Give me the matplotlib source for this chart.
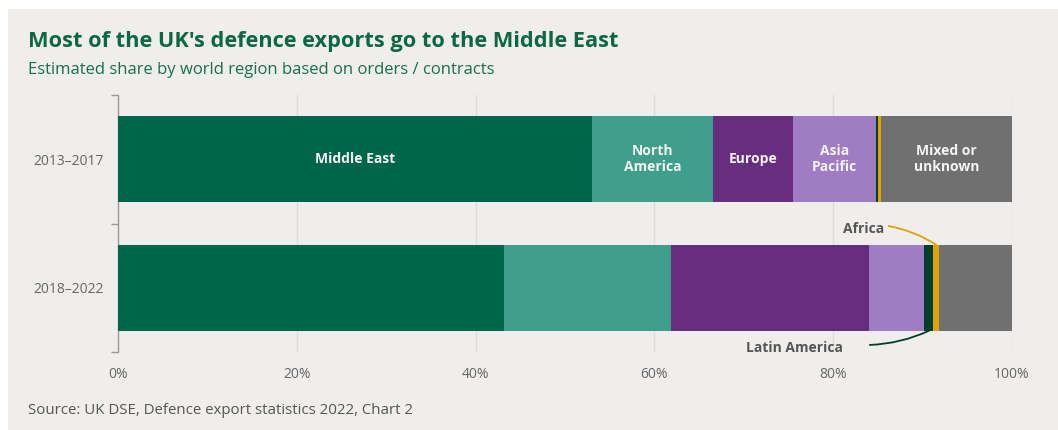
import matplotlib
matplotlib.use("Agg")
import matplotlib.pyplot as plt
from matplotlib.patches import Rectangle

periods = ["2013–2017", "2018–2022"]
regions = ["Middle East", "North America", "Europe", "Asia Pacific",
           "Latin America", "Africa", "Mixed or unknown"]
share_2013_2017 = [53.0, 13.6, 8.9, 9.3, 0.2, 0.3, 14.7]
share_2018_2022 = [43.2, 18.7, 22.1, 6.2, 1.0, 0.6, 8.2]
inside_labels = ["Middle East", "North\nAmerica", "Europe", "Asia\nPacific",
                 "", "", "Mixed or\nunknown"]
xticks = [0, 20, 40, 60, 80, 100]
xticklabels = ["0%", "20%", "40%", "60%", "80%", "100%"]

colors = ["#00654a", "#409f8a", "#672d7e", "#a07cc5", "#003f2b", "#e1a200", "#707070"]

plt.rcParams['font.family'] = ['Open Sans', 'DejaVu Sans']

W, H = 1058, 430
fig = plt.figure(figsize=(W / 100, H / 100), dpi=100)
fig.patch.set_facecolor("white")
fig.patches.append(Rectangle((8 / W, 0), 1, 1 - 9 / H, transform=fig.transFigure,
                             facecolor="#efeeec", edgecolor="none", zorder=-10))

ax = fig.add_axes([118 / W, 1 - 352 / H, (1012 - 118) / W, (352 - 95) / H])
ax.set_facecolor("none")
ax.set_zorder(2)

data = [share_2013_2017, share_2018_2022]
for i, vals in enumerate(data):
    left = 0
    for j, v in enumerate(vals):
        ax.barh(i, v, left=left, height=0.67, color=colors[j], edgecolor="none", zorder=3)
        if i == 0 and inside_labels[j]:
            ax.text(left + v / 2, i, inside_labels[j], ha="center", va="center",
                    color="#f4f4f4", fontsize=10, fontweight="bold",
                    linespacing=1.2, zorder=4)
        left += v

ax.set_xlim(0, 100)
ax.set_ylim(1.5, -0.5)
ax.set_xticks(xticks)
ax.set_xticklabels(xticklabels, color="#666666", fontsize=10)
ax.tick_params(axis="x", length=0, pad=11)
ax.set_yticks([0, 1])
ax.set_yticklabels(periods, color="#666666", fontsize=10)
ax.tick_params(axis="y", which="major", length=0, pad=10)
ax.set_yticks([-0.5, 0.5, 1.5], minor=True)
ax.tick_params(axis="y", which="minor", length=5, color="#999999", width=1)
for x in xticks[1:]:
    ax.axvline(x, color="#dcdcdc", linewidth=1, zorder=1)
for s in ["top", "right", "bottom"]:
    ax.spines[s].set_visible(False)
ax.spines["left"].set_color("#999999")
ax.spines["left"].set_linewidth(1)

# annotations for small segments
cum2 = [sum(share_2018_2022[:k]) for k in range(len(share_2018_2022))]
la_mid = cum2[4] + share_2018_2022[4] / 2
af_mid = cum2[5] + share_2018_2022[5] / 2

ax.text(85.7, 0.545, "Africa", ha="right", va="center", color="#555555",
        fontsize=10, fontweight="bold", zorder=5)
ax.annotate("", xy=(af_mid, 1 - 0.335), xytext=(86.2, 0.52),
            arrowprops=dict(arrowstyle="-", color=colors[5], lw=1.3, shrinkA=0, shrinkB=0,
                            connectionstyle="arc3,rad=-0.1"), zorder=5,
            annotation_clip=False)
ax.text(81.1, 1.47, "Latin America", ha="right", va="center", color="#555555",
        fontsize=10, fontweight="bold", zorder=5)
ax.annotate("", xy=(la_mid, 1 + 0.335), xytext=(84.1, 1.445),
            arrowprops=dict(arrowstyle="-", color=colors[4], lw=1.3, shrinkA=0, shrinkB=0,
                            connectionstyle="arc3,rad=0.1"), zorder=5,
            annotation_clip=False)

fig.text(28 / W, 1 - 42 / H, "Most of the UK's defence exports go to the Middle East",
         ha="left", va="center", color="#0b6842", fontsize=15.7, fontweight="bold")
fig.text(28 / W, 1 - 70 / H, "Estimated share by world region based on orders / contracts",
         ha="left", va="center", color="#17704b", fontsize=12)
fig.text(28 / W, 1 - 410 / H, "Source: UK DSE, Defence export statistics 2022, Chart 2",
         ha="left", va="center", color="#555555", fontsize=10.8)

fig.savefig("out.png", dpi=100)
